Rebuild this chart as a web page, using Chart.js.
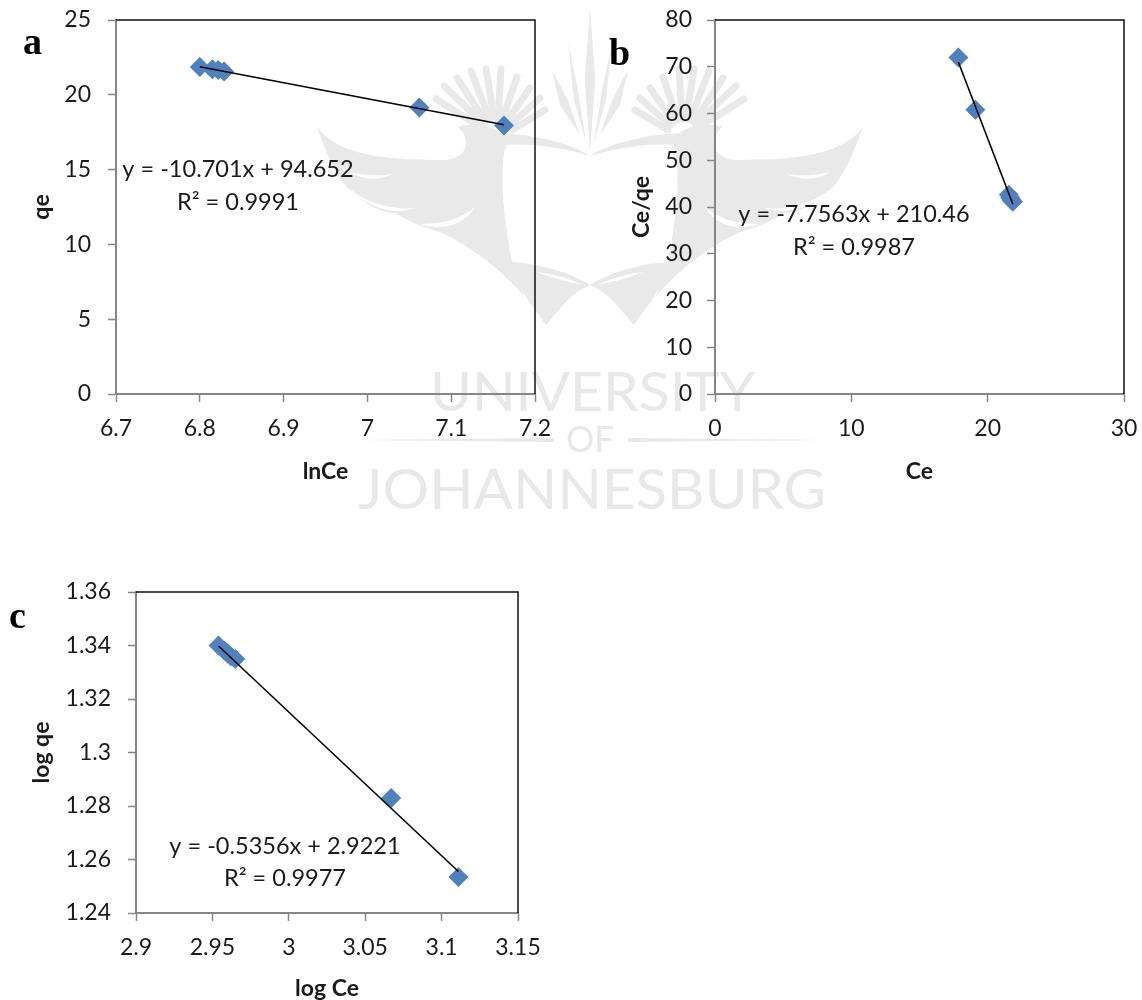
<!DOCTYPE html>
<html>
<head>
<meta charset="utf-8">
<title>Isotherm fits</title>
<script src="https://cdn.jsdelivr.net/npm/chart.js@4"></script>
<style>
  html, body { margin: 0; padding: 0; background: #fff; }
  #page { position: relative; width: 1142px; height: 1000px; overflow: hidden; }
  #page canvas { position: absolute; }
  #wm { position: absolute; left: 0; top: 0; }
  .panel { position: absolute; font: bold 38px "Liberation Serif", serif; color: #000; line-height: 1; }
</style>
</head>
<body>
<div id="page">
  <!-- University watermark behind the charts -->
  <svg id="wm" width="1142" height="1000" viewBox="0 0 1142 1000">
    <defs>
      <g id="wm-half">
        <path fill="#e9e9e9" fill-rule="evenodd" d="M317,127 C340,158 395,160 445,160 C468,158 472,140 458,127
          C475,122 490,125 500,133 C535,135 570,143 590,156 L590,285 C570,272 540,264 512,262 C505,225 498,175 506,145
          C530,143 565,148 590,156 L590,285 C578,290 572,296 565,303 L546,325 C520,285 480,250 440,232
          C425,228 410,222 395,213 C375,212 362,200 350,190 C338,180 325,150 317,127 Z"/>
        <!-- white slits between the wing and tail feathers -->
        <g fill="#fff">
          <path d="M350,172 C365,176 380,176 394,174 C378,181 362,180 350,172 Z"/>
          <path d="M348,188 C370,205 395,210 416,208 C395,216 368,208 348,188 Z"/>
          <path d="M420,224 C445,224 462,218 475,207 C465,224 445,232 420,224 Z"/>
          <path d="M521,288 C528,300 534,312 540,325 L534,325 C530,312 526,300 521,288 Z"/>
          <path d="M537,272 C555,274 570,279 582,285 C568,282 552,278 537,272 Z"/>
        </g>
        <g fill="none" stroke="#e9e9e9" stroke-width="7" stroke-linecap="round">
          <line x1="482" y1="128" x2="436" y2="99"/>
          <line x1="484" y1="124" x2="444" y2="86"/>
          <line x1="486" y1="122" x2="457" y2="78"/>
          <line x1="490" y1="120" x2="471" y2="71"/>
          <line x1="494" y1="119" x2="486" y2="69"/>
          <line x1="498" y1="119" x2="501" y2="69"/>
          <line x1="502" y1="120" x2="517" y2="77"/>
          <line x1="506" y1="122" x2="530" y2="88"/>
          <line x1="510" y1="125" x2="540" y2="98"/>
          <line x1="512" y1="130" x2="545" y2="110"/>
        </g>
        <path fill="#e9e9e9" d="M590,10 L595,80 L590,150 L585,80 Z M568,43 L578,90 L586,142 L574,100 Z M552,70 L568,100 L580,135 L560,105 Z"/>
      </g>
    </defs>
    <use href="#wm-half"/>
    <use href="#wm-half" transform="translate(1180,0) scale(-1,1)"/>
    <g fill="#e8e8e8" font-family="Lato, 'Liberation Sans', sans-serif" font-weight="400">
      <text x="430" y="411" font-size="55" textLength="325" lengthAdjust="spacingAndGlyphs">UNIVERSITY</text>
      <text x="566" y="452" font-size="37" textLength="48" lengthAdjust="spacingAndGlyphs">OF</text>
      <text x="358" y="509" font-size="57" textLength="468" lengthAdjust="spacingAndGlyphs">JOHANNESBURG</text>
      <path d="M355,440 L554,438 L554,442 Z"/>
      <path d="M628,438 L825,440 L628,442 Z"/>
    </g>
  </svg>

  <canvas id="chart-a" style="left:0;top:0"></canvas>
  <canvas id="chart-b" style="left:590px;top:0"></canvas>
  <canvas id="chart-c" style="left:0;top:570px"></canvas>

  <div class="panel" style="left:23px;top:22px">a</div>
  <div class="panel" style="left:609px;top:33px">b</div>
  <div class="panel" style="left:9px;top:596px">c</div>
</div>

<script>
// ── DATA ──────────────────────────────────────────────────────────────────────

const lnCe   = [6.8, 6.815, 6.822, 6.829, 7.062, 7.163]
const qe     = [21.85, 21.7, 21.65, 21.55, 19.15, 17.95]
const lineAx = [6.8, 7.163]
const lineAy = [21.87, 18.0]
const ticksAx = [6.7, 6.8, 6.9, 7, 7.1, 7.2]
const ticksAy = [0, 5, 10, 15, 20, 25]

const ce     = [17.85, 19.1, 21.55, 21.65, 21.75, 21.85]
const ceQe   = [72, 60.8, 42.6, 42, 41.5, 41.1]
const lineBx = [17.85, 21.85]
const lineBy = [71.0, 40.6]
const ticksBx = [0, 10, 20, 30]
const ticksBy = [0, 10, 20, 30, 40, 50, 60, 70, 80]

const logCe  = [2.954, 2.958, 2.96, 2.962, 2.965, 3.067, 3.111]
const logQe  = [1.34, 1.338, 1.337, 1.336, 1.335, 1.283, 1.2535]
const lineCx = [2.954, 3.111]
const lineCy = [1.3398, 1.2555]
const ticksCx = [2.9, 2.95, 3, 3.05, 3.1, 3.15]
const ticksCy = [1.24, 1.26, 1.28, 1.3, 1.32, 1.34, 1.36]

// ── STYLE ─────────────────────────────────────────────────────────────────────

const _AXIS_GREY = '#868686'
const _MARKER    = '#4f81bd'
const _TEXT      = '#1a1a1a'
const _FONT      = 'Lato, Carlito, sans-serif'

const _zip = (xs, ys) => xs.map((x, i) => ({ x, y: ys[i] }))

// Top and right frame are black, left and bottom come from the axes
const frameAndEq = {
  id: 'frame-eq',
  afterDatasetsDraw(chart, args, opts) {
    const { ctx, chartArea: { top, bottom, left, right } } = chart
    ctx.save()
    ctx.strokeStyle = '#111'; ctx.lineWidth = 1.5
    ctx.beginPath()
    ctx.moveTo(left, top); ctx.lineTo(right, top); ctx.lineTo(right, bottom)
    ctx.stroke()
    ctx.font = '23.5px ' + _FONT; ctx.fillStyle = _TEXT
    ctx.textAlign = 'center'; ctx.textBaseline = 'middle'
    opts.lines.forEach(l => ctx.fillText(l.text, l.cx, l.cy))
    ctx.restore()
  }
}

// ── CHART BUILDER ─────────────────────────────────────────────────────────────

function _scale(ticks, title, size, titlePad, tickPad) {
  return {
    min: ticks[0],
    max: ticks[ticks.length - 1],
    afterBuildTicks(s) { s.ticks = ticks.map(value => ({ value })) },
    afterFit(s) {
      if (s.isHorizontal()) s.height = size; else s.width = size
      // otherwise the end labels push the chart area in
      s.paddingTop = s.paddingBottom = s.paddingLeft = s.paddingRight = 0
    },
    grid: { drawOnChartArea: false, color: _AXIS_GREY, tickLength: 8, tickWidth: 1.5 },
    border: { color: _AXIS_GREY, width: 2 },
    ticks: {
      color: _TEXT, font: { family: _FONT, size: 23 }, padding: tickPad,
      autoSkip: false, maxRotation: 0,
      callback: v => String(v)
    },
    title: {
      display: true, text: title, color: _TEXT, padding: titlePad,
      font: { family: _FONT, size: 23, weight: 'bold' }
    }
  }
}

function buildChart(id, w, h, pad, pts, line, sx, sy, eq) {
  const cv = document.getElementById(id)
  cv.width = w; cv.height = h
  cv.style.width = w + 'px'; cv.style.height = h + 'px'
  new Chart(cv, {
    type: 'scatter',
    plugins: [frameAndEq],
    data: {
      datasets: [
        { data: line, showLine: true, borderColor: '#000', borderWidth: 1.6, pointRadius: 0 },
        { data: pts, pointStyle: 'rectRot', pointRadius: 10, backgroundColor: _MARKER, borderColor: _MARKER, borderWidth: 0 }
      ]
    },
    options: {
      responsive: false, animation: false,
      layout: { padding: pad },
      plugins: { legend: { display: false }, tooltip: { enabled: false }, 'frame-eq': { lines: eq } },
      scales: { x: sx, y: sy }
    }
  })
}

// ── ENTRY POINT ───────────────────────────────────────────────────────────────

buildChart('chart-a', 560, 490, { left: 0, top: 20, right: 25, bottom: 5 },
  _zip(lnCe, qe), _zip(lineAx, lineAy),
  _scale(ticksAx, 'lnCe', 91, { top: 8, bottom: 0 }, 13),
  _scale(ticksAy, 'qe', 116, { top: 28, bottom: 0 }, 17),
  [{ text: 'y = -10.701x + 94.652', cx: 238, cy: 169 }, { text: 'R² = 0.9991', cx: 238, cy: 202 }])

buildChart('chart-b', 552, 490, { left: 0, top: 20, right: 18, bottom: 5 },
  _zip(ce, ceQe), _zip(lineBx, lineBy),
  _scale(ticksBx, 'Ce', 91, { top: 8, bottom: 0 }, 13),
  _scale(ticksBy, 'Ce/qe', 125, { top: 38, bottom: 0 }, 15),
  [{ text: 'y = -7.7563x + 210.46', cx: 264, cy: 214 }, { text: 'R² = 0.9987', cx: 264, cy: 247 }])

buildChart('chart-c', 560, 430, { left: 0, top: 22, right: 42, bottom: 0 },
  _zip(logCe, logQe), _zip(lineCx, lineCy),
  _scale(ticksCx, 'log Ce', 87, { top: 8, bottom: -2 }, 13),
  _scale(ticksCy, 'log qe', 136, { top: 28, bottom: 0 }, 17),
  [{ text: 'y = -0.5356x + 2.9221', cx: 285, cy: 276 }, { text: 'R² = 0.9977', cx: 285, cy: 308 }])
</script>
</body>
</html>
